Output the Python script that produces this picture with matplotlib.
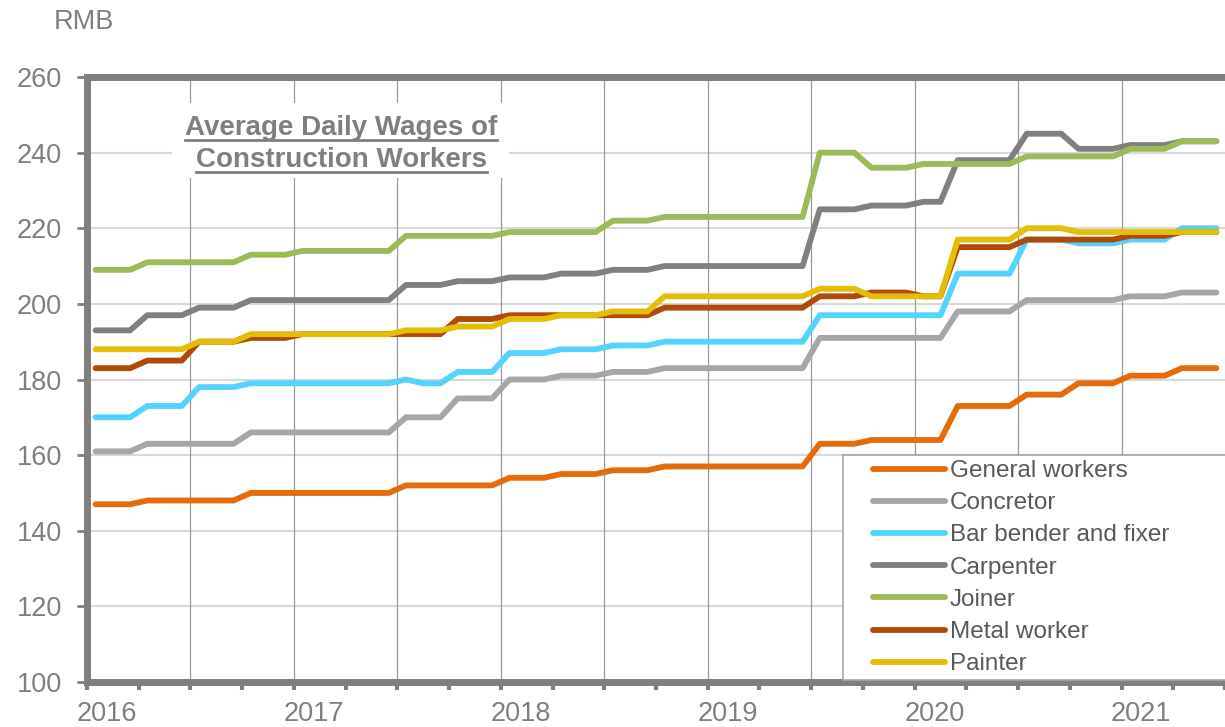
import numpy as np
import matplotlib
matplotlib.use("Agg")
import matplotlib.pyplot as plt
from matplotlib.patches import Rectangle
from matplotlib.lines import Line2D
from matplotlib.transforms import IdentityTransform

plt.rcParams["font.family"] = ["Liberation Sans", "DejaVu Sans"]

# --- data: monthly average daily wages (RMB), Jan 2016 - Jun 2021 ---
years = ["2016", "2017", "2018", "2019", "2020", "2021"]
series_names = ["General workers", "Concretor", "Bar bender and fixer", "Carpenter",
                "Joiner", "Metal worker", "Painter"]

general_workers = [147, 147, 147, 148, 148, 148, 148, 148, 148, 150, 150, 150,
                   150, 150, 150, 150, 150, 150, 152, 152, 152, 152, 152, 152,
                   154, 154, 154, 155, 155, 155, 156, 156, 156, 157, 157, 157,
                   157, 157, 157, 157, 157, 157, 163, 163, 163, 164, 164, 164,
                   164, 164, 173, 173, 173, 173, 176, 176, 176, 179, 179, 179,
                   181, 181, 181, 183, 183, 183]
concretor = [161, 161, 161, 163, 163, 163, 163, 163, 163, 166, 166, 166,
             166, 166, 166, 166, 166, 166, 170, 170, 170, 175, 175, 175,
             180, 180, 180, 181, 181, 181, 182, 182, 182, 183, 183, 183,
             183, 183, 183, 183, 183, 183, 191, 191, 191, 191, 191, 191,
             191, 191, 198, 198, 198, 198, 201, 201, 201, 201, 201, 201,
             202, 202, 202, 203, 203, 203]
bar_bender = [170, 170, 170, 173, 173, 173, 178, 178, 178, 179, 179, 179,
              179, 179, 179, 179, 179, 179, 180, 179, 179, 182, 182, 182,
              187, 187, 187, 188, 188, 188, 189, 189, 189, 190, 190, 190,
              190, 190, 190, 190, 190, 190, 197, 197, 197, 197, 197, 197,
              197, 197, 208, 208, 208, 208, 217, 217, 217, 216, 216, 216,
              217, 217, 217, 220, 220, 220]
carpenter = [193, 193, 193, 197, 197, 197, 199, 199, 199, 201, 201, 201,
             201, 201, 201, 201, 201, 201, 205, 205, 205, 206, 206, 206,
             207, 207, 207, 208, 208, 208, 209, 209, 209, 210, 210, 210,
             210, 210, 210, 210, 210, 210, 225, 225, 225, 226, 226, 226,
             227, 227, 238, 238, 238, 238, 245, 245, 245, 241, 241, 241,
             242, 242, 242, 243, 243, 243]
joiner = [209, 209, 209, 211, 211, 211, 211, 211, 211, 213, 213, 213,
          214, 214, 214, 214, 214, 214, 218, 218, 218, 218, 218, 218,
          219, 219, 219, 219, 219, 219, 222, 222, 222, 223, 223, 223,
          223, 223, 223, 223, 223, 223, 240, 240, 240, 236, 236, 236,
          237, 237, 237, 237, 237, 237, 239, 239, 239, 239, 239, 239,
          241, 241, 241, 243, 243, 243]
metal_worker = [183, 183, 183, 185, 185, 185, 190, 190, 190, 191, 191, 191,
                192, 192, 192, 192, 192, 192, 192, 192, 192, 196, 196, 196,
                197, 197, 197, 197, 197, 197, 197, 197, 197, 199, 199, 199,
                199, 199, 199, 199, 199, 199, 202, 202, 202, 203, 203, 203,
                202, 202, 215, 215, 215, 215, 217, 217, 217, 217, 217, 217,
                218, 218, 218, 219, 219, 219]
painter = [188, 188, 188, 188, 188, 188, 190, 190, 190, 192, 192, 192,
           192, 192, 192, 192, 192, 192, 193, 193, 193, 194, 194, 194,
           196, 196, 196, 197, 197, 197, 198, 198, 198, 202, 202, 202,
           202, 202, 202, 202, 202, 202, 204, 204, 204, 202, 202, 202,
           202, 202, 217, 217, 217, 217, 220, 220, 220, 219, 219, 219,
           219, 219, 219, 219, 219, 219]

series_values = [general_workers, concretor, bar_bender, carpenter,
                 joiner, metal_worker, painter]
colors = ["#E46C0A", "#A6A6A6", "#55D3FF", "#808080", "#9BBB59", "#B04A08", "#E3BE06"]

W, H = 1225, 727
GREY = "#7f7f7f"


def fig_px(x, y):
    # pixel position (origin top-left) -> figure fraction
    return x / W, 1 - y / H


fig = plt.figure(figsize=(W / 100, H / 100), dpi=100)
left, top, bottom = 87, 77, 682
ax = fig.add_axes([left / W, 1 - bottom / H, (W - left) / W, (bottom - top) / H])

months = np.arange(len(general_workers)) + 0.5  # points sit mid-month
for name, vals, col in zip(series_names, series_values, colors):
    ax.plot(months, vals, color=col, lw=4.2, label=name, zorder=3,
            solid_capstyle="round", solid_joinstyle="round")

px_per_month = 208 / 12
ax.set_xlim(0, (W - left) / px_per_month)
ax.set_ylim(100, 260)

# axes styling
for side in ["left", "bottom", "top"]:
    ax.spines[side].set_color(GREY)
    ax.spines[side].set_linewidth(5)
ax.spines["right"].set_visible(False)

ax.set_yticks(np.arange(100, 261, 20))
ax.tick_params(axis="y", length=7, width=2, color=GREY, pad=11,
               labelsize=19.5, labelcolor=GREY)
ax.set_xticks(np.arange(0, len(months) + 1, 3))
ax.tick_params(axis="x", which="major", length=5.5, width=3, color=GREY, labelbottom=False)
ax.set_xticks(np.arange(len(years)) * 12 + 1.15, labels=years, minor=True)
ax.tick_params(axis="x", which="minor", length=0, pad=14, labelsize=19.5, labelcolor=GREY)

for v in np.arange(120, 260, 20):
    ax.axhline(v, color="#d9d9d9", lw=1.5, zorder=1)
for m in np.arange(6, len(months), 6):
    ax.axvline(m, color="#999999", lw=0.9, zorder=1)

# white box behind the title
bx0, by0 = fig_px(172, 178)
bx1, by1 = fig_px(509, 103)
fig.add_artist(Rectangle((bx0, by0), bx1 - bx0, by1 - by0, transform=fig.transFigure,
                         facecolor="white", edgecolor="none", zorder=1))

title_lines = ["Average Daily Wages of", "Construction Workers"]
baselines = [135, 167]
renderer = fig.canvas.get_renderer()
for line, base in zip(title_lines, baselines):
    t = fig.text(*fig_px(341, base), line, ha="center", va="baseline",
                 fontsize=20, fontweight="bold", color=GREY, zorder=2)
    bb = t.get_window_extent(renderer)
    uy = H - base - 5
    fig.add_artist(Line2D([bb.x0, bb.x1], [uy, uy], transform=IdentityTransform(),
                          color=GREY, lw=2, zorder=2))

fig.text(*fig_px(54, 22), "RMB", ha="left", va="center", fontsize=19.5, color=GREY)

# legend with its own frame running off the right edge
lx0, ly0 = fig_px(843, 680)
lx1, ly1 = fig_px(1240, 455)
fig.add_artist(Rectangle((lx0, ly0), lx1 - lx0, ly1 - ly0, transform=fig.transFigure,
                         facecolor="white", edgecolor="#a6a6a6", lw=1.2, zorder=4))
handles, labels = ax.get_legend_handles_labels()
leg = fig.legend(handles, labels, loc="upper left", bbox_to_anchor=fig_px(873, 460),
                 frameon=False, borderpad=0, borderaxespad=0, handlelength=2.95,
                 handletextpad=0.2, labelspacing=0.42, fontsize=17.5)
leg.set_zorder(5)
for txt in leg.get_texts():
    txt.set_color("#595959")

fig.savefig("out.png", dpi=100)
